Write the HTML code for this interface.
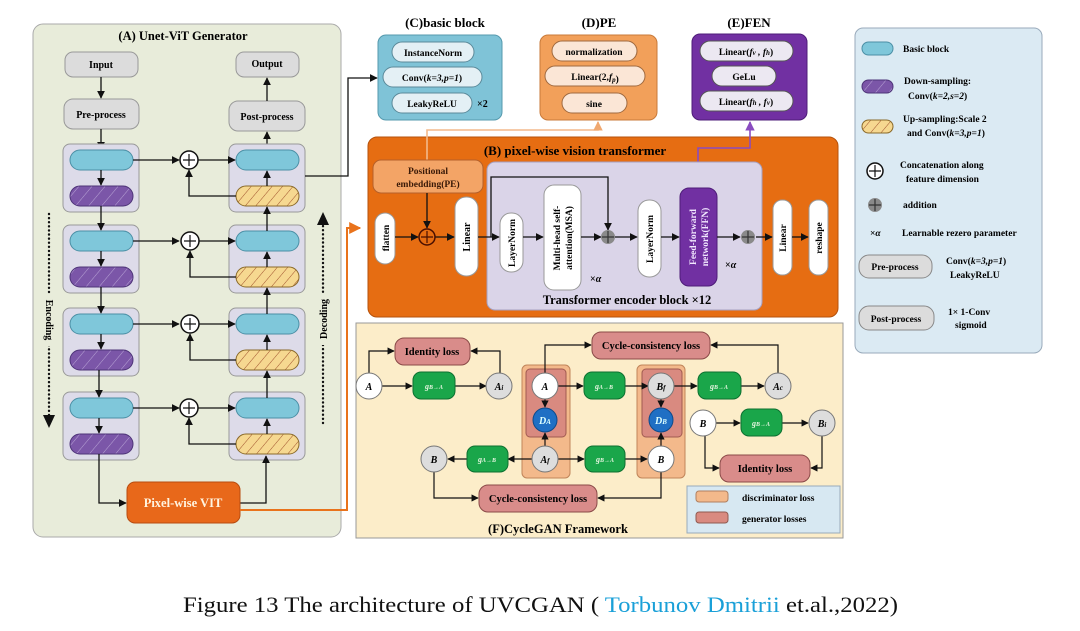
<!DOCTYPE html>
<html><head><meta charset="utf-8"><style>
html,body{margin:0;padding:0;background:#fff;}
svg{display:block;font-family:"Liberation Serif",serif;}
.b{font-weight:bold;}
</style></head><body>
<svg width="1080" height="631" viewBox="0 0 1080 631" xmlns="http://www.w3.org/2000/svg">
<defs>
<marker id="ar" viewBox="0 0 10 10" refX="9" refY="5" markerWidth="6" markerHeight="6" orient="auto"><path d="M0,0L10,5L0,10z" fill="#111"/></marker>
<marker id="ao" viewBox="0 0 10 10" refX="9" refY="5" markerWidth="6" markerHeight="6" orient="auto"><path d="M0,0L10,5L0,10z" fill="#e9731c"/></marker>
<marker id="al" viewBox="0 0 10 10" refX="9" refY="5" markerWidth="6" markerHeight="6" orient="auto"><path d="M0,0L10,5L0,10z" fill="#f0a870"/></marker>
<marker id="ap" viewBox="0 0 10 10" refX="9" refY="5" markerWidth="6" markerHeight="6" orient="auto"><path d="M0,0L10,5L0,10z" fill="#8a4cc0"/></marker>
<pattern id="hp" width="10" height="10" patternUnits="userSpaceOnUse" patternTransform="rotate(40)"><rect width="10" height="10" fill="#7b56a8"/><line x1="0" y1="0" x2="0" y2="10" stroke="#b9a5d6" stroke-width="1"/></pattern>
<pattern id="hy" width="8" height="8" patternUnits="userSpaceOnUse" patternTransform="rotate(40)"><rect width="8" height="8" fill="#f6d890"/><line x1="0" y1="0" x2="0" y2="8" stroke="#a0522d" stroke-width="1"/></pattern>
</defs>

<!-- Panel A -->
<rect x="33" y="24" width="308" height="513" rx="10" fill="#e8ecda" stroke="#aaa"/>
<text x="183" y="40" class="b" font-size="12.5" text-anchor="middle">(A)  Unet-ViT Generator</text>
<rect x="65" y="52" width="73" height="25" rx="8" fill="#dcdcdc" stroke="#999"/>
<text x="101" y="68" class="b" font-size="10" text-anchor="middle">Input</text>
<rect x="236" y="52" width="63" height="25" rx="8" fill="#dcdcdc" stroke="#999"/>
<text x="267" y="67" class="b" font-size="10" text-anchor="middle">Output</text>
<rect x="64" y="99" width="75" height="30" rx="9" fill="#dcdcdc" stroke="#999"/>
<text x="101" y="118" class="b" font-size="10" text-anchor="middle">Pre-process</text>
<rect x="229" y="101" width="76" height="30" rx="9" fill="#dcdcdc" stroke="#999"/>
<text x="267" y="120" class="b" font-size="10" text-anchor="middle">Post-process</text>
<g stroke="#111" stroke-width="1.3" fill="none">
<line x1="101" y1="77" x2="101" y2="98" marker-end="url(#ar)"/>
<line x1="101" y1="129" x2="101" y2="149" marker-end="url(#ar)"/>
<line x1="267" y1="150" x2="267" y2="132" marker-end="url(#ar)"/>
<line x1="267" y1="101" x2="267" y2="78" marker-end="url(#ar)"/>
</g>

<g>
<rect x="63" y="144" width="76" height="68" rx="7" fill="#dddbe9" stroke="#999"/>
<rect x="70" y="150" width="63" height="20" rx="10" fill="#7fc7da" stroke="#4b8fa5"/>
<rect x="70" y="186" width="63" height="20" rx="10" fill="url(#hp)" stroke="#4e3478"/>
<rect x="229" y="144" width="76" height="68" rx="7" fill="#dddbe9" stroke="#999"/>
<rect x="236" y="150" width="63" height="20" rx="10" fill="#7fc7da" stroke="#4b8fa5"/>
<rect x="236" y="186" width="63" height="20" rx="10" fill="url(#hy)" stroke="#8a6a2a"/>
</g>
<g>
<rect x="63" y="225" width="76" height="68" rx="7" fill="#dddbe9" stroke="#999"/>
<rect x="70" y="231" width="63" height="20" rx="10" fill="#7fc7da" stroke="#4b8fa5"/>
<rect x="70" y="267" width="63" height="20" rx="10" fill="url(#hp)" stroke="#4e3478"/>
<rect x="229" y="225" width="76" height="68" rx="7" fill="#dddbe9" stroke="#999"/>
<rect x="236" y="231" width="63" height="20" rx="10" fill="#7fc7da" stroke="#4b8fa5"/>
<rect x="236" y="267" width="63" height="20" rx="10" fill="url(#hy)" stroke="#8a6a2a"/>
</g>
<g>
<rect x="63" y="308" width="76" height="68" rx="7" fill="#dddbe9" stroke="#999"/>
<rect x="70" y="314" width="63" height="20" rx="10" fill="#7fc7da" stroke="#4b8fa5"/>
<rect x="70" y="350" width="63" height="20" rx="10" fill="url(#hp)" stroke="#4e3478"/>
<rect x="229" y="308" width="76" height="68" rx="7" fill="#dddbe9" stroke="#999"/>
<rect x="236" y="314" width="63" height="20" rx="10" fill="#7fc7da" stroke="#4b8fa5"/>
<rect x="236" y="350" width="63" height="20" rx="10" fill="url(#hy)" stroke="#8a6a2a"/>
</g>
<g>
<rect x="63" y="392" width="76" height="68" rx="7" fill="#dddbe9" stroke="#999"/>
<rect x="70" y="398" width="63" height="20" rx="10" fill="#7fc7da" stroke="#4b8fa5"/>
<rect x="70" y="434" width="63" height="20" rx="10" fill="url(#hp)" stroke="#4e3478"/>
<rect x="229" y="392" width="76" height="68" rx="7" fill="#dddbe9" stroke="#999"/>
<rect x="236" y="398" width="63" height="20" rx="10" fill="#7fc7da" stroke="#4b8fa5"/>
<rect x="236" y="434" width="63" height="20" rx="10" fill="url(#hy)" stroke="#8a6a2a"/>
</g>

<g stroke="#111" stroke-width="1.3" fill="none">
<line x1="101" y1="170" x2="101" y2="185" marker-end="url(#ar)"/>
<line x1="101" y1="206" x2="101" y2="230" marker-end="url(#ar)"/>
<line x1="101" y1="251" x2="101" y2="266" marker-end="url(#ar)"/>
<line x1="101" y1="287" x2="101" y2="313" marker-end="url(#ar)"/>
<line x1="101" y1="334" x2="101" y2="349" marker-end="url(#ar)"/>
<line x1="99" y1="370" x2="99" y2="397" marker-end="url(#ar)"/>
<line x1="99" y1="418" x2="99" y2="433" marker-end="url(#ar)"/>
<polyline points="99,454 99,503 126,503" marker-end="url(#ar)"/>
<line x1="267" y1="186" x2="267" y2="171" marker-end="url(#ar)"/>
<line x1="267" y1="231" x2="267" y2="207" marker-end="url(#ar)"/>
<line x1="267" y1="267" x2="267" y2="252" marker-end="url(#ar)"/>
<line x1="267" y1="314" x2="267" y2="288" marker-end="url(#ar)"/>
<line x1="267" y1="350" x2="267" y2="335" marker-end="url(#ar)"/>
<line x1="267" y1="398" x2="267" y2="371" marker-end="url(#ar)"/>
<line x1="267" y1="434" x2="267" y2="419" marker-end="url(#ar)"/>
<polyline points="240,503 266,503 266,456" marker-end="url(#ar)"/>
<line x1="133" y1="160" x2="179" y2="160" marker-end="url(#ar)"/>
<line x1="198" y1="160" x2="235" y2="160" marker-end="url(#ar)"/>
<polyline points="236,196 189,196 189,170" marker-end="url(#ar)"/>
<line x1="133" y1="241" x2="179" y2="241" marker-end="url(#ar)"/>
<line x1="198" y1="241" x2="235" y2="241" marker-end="url(#ar)"/>
<polyline points="236,277 190,277 190,251" marker-end="url(#ar)"/>
<line x1="133" y1="324" x2="179" y2="324" marker-end="url(#ar)"/>
<line x1="198" y1="324" x2="235" y2="324" marker-end="url(#ar)"/>
<polyline points="236,360 190,360 190,334" marker-end="url(#ar)"/>
<line x1="133" y1="408" x2="179" y2="408" marker-end="url(#ar)"/>
<line x1="198" y1="408" x2="235" y2="408" marker-end="url(#ar)"/>
<polyline points="236,444 189,444 189,418" marker-end="url(#ar)"/>
<polyline points="305,176 348,176 348,78 377,78" marker-end="url(#ar)"/>
</g>
<g fill="#fff" stroke="#111" stroke-width="1.5">
<circle cx="189" cy="160" r="9"/><circle cx="190" cy="241" r="9"/><circle cx="190" cy="324" r="9"/><circle cx="189" cy="408" r="9"/>
</g>
<g stroke="#111" stroke-width="1.2">
<path d="M183,160h12M189,154v12"/><path d="M184,241h12M190,235v12"/><path d="M184,324h12M190,318v12"/><path d="M183,408h12M189,402v12"/>
</g>
<!-- encoding/decoding -->
<line x1="49" y1="214" x2="49" y2="418" stroke="#111" stroke-width="2.4" stroke-dasharray="0.1,4" stroke-linecap="round"/>
<path d="M43,415L55,415L49,428z" fill="#111"/>
<rect x="43" y="294" width="12" height="52" fill="#e8ecda"/>
<text transform="translate(46,320) rotate(90)" class="b" font-size="10" text-anchor="middle">Encoding</text>
<line x1="323" y1="222" x2="323" y2="425" stroke="#111" stroke-width="2.4" stroke-dasharray="0.1,4" stroke-linecap="round"/>
<path d="M317,225L329,225L323,212z" fill="#111"/>
<rect x="317" y="293" width="12" height="52" fill="#e8ecda"/>
<text transform="translate(327,319) rotate(-90)" class="b" font-size="10" text-anchor="middle">Decoding</text>
<!-- VIT -->
<rect x="127" y="482" width="113" height="41" rx="8" fill="#e8681a" stroke="#b84c10"/>
<text x="183" y="507" class="b" font-size="12.5" fill="#fff4e0" text-anchor="middle">Pixel-wise VIT</text>
<polyline points="240,510 347,510 347,228 360,228" fill="none" stroke="#e9731c" stroke-width="2" marker-end="url(#ao)"/>

<!-- Panel C -->
<text x="445" y="27" class="b" font-size="13" text-anchor="middle">(C)basic block</text>
<rect x="378" y="35" width="124" height="85" rx="8" fill="#7fc3d7" stroke="#5599ad"/>
<rect x="392" y="42" width="82" height="20" rx="10" fill="#e4f0f5" stroke="#5b8a9a"/>
<text x="433" y="56" class="b" font-size="9.5" text-anchor="middle">InstanceNorm</text>
<rect x="383" y="67" width="99" height="20" rx="10" fill="#e4f0f5" stroke="#5b8a9a"/>
<text x="432" y="81" class="b" font-size="9.5" text-anchor="middle">Conv(<tspan font-style="italic">k=3,p=1</tspan>)</text>
<rect x="392" y="93" width="80" height="20" rx="10" fill="#e4f0f5" stroke="#5b8a9a"/>
<text x="432" y="107" class="b" font-size="9.5" text-anchor="middle">LeakyReLU</text>
<text x="477" y="107" class="b" font-size="10">×2</text>
<!-- Panel D -->
<text x="599" y="27" class="b" font-size="13" text-anchor="middle">(D)PE</text>
<rect x="540" y="35" width="117" height="85" rx="8" fill="#f2a05a" stroke="#c87a3a"/>
<rect x="552" y="41" width="85" height="20" rx="10" fill="#fbe6d6" stroke="#a06a40"/>
<text x="594" y="55" class="b" font-size="9.5" text-anchor="middle">normalization</text>
<rect x="545" y="66" width="100" height="20" rx="10" fill="#fbe6d6" stroke="#a06a40"/>
<text x="595" y="80" class="b" font-size="9.5" text-anchor="middle">Linear(2,<tspan font-style="italic">f<tspan font-size="7" dy="2">p</tspan></tspan>)</text>
<rect x="562" y="93" width="65" height="20" rx="10" fill="#fbe6d6" stroke="#a06a40"/>
<text x="594" y="107" class="b" font-size="9.5" text-anchor="middle">sine</text>
<!-- Panel E -->
<text x="749" y="27" class="b" font-size="13" text-anchor="middle">(E)FEN</text>
<rect x="692" y="34" width="115" height="86" rx="8" fill="#7130a2" stroke="#4e1d78"/>
<rect x="700" y="41" width="93" height="20" rx="10" fill="#ece8f2" stroke="#555"/>
<text x="746" y="55" class="b" font-size="9.5" text-anchor="middle">Linear(<tspan font-style="italic">f<tspan font-size="7">v</tspan> , f<tspan font-size="7">h</tspan></tspan>)</text>
<rect x="712" y="66" width="64" height="20" rx="10" fill="#ece8f2" stroke="#555"/>
<text x="744" y="80" class="b" font-size="9.5" text-anchor="middle">GeLu</text>
<rect x="700" y="91" width="93" height="20" rx="10" fill="#ece8f2" stroke="#555"/>
<text x="746" y="105" class="b" font-size="9.5" text-anchor="middle">Linear(<tspan font-style="italic">f<tspan font-size="7">h</tspan> , f<tspan font-size="7">v</tspan></tspan>)</text>

<!-- Panel B -->
<rect x="368" y="137" width="470" height="180" rx="9" fill="#e66d12" stroke="#b5520c"/>
<text x="575" y="155" class="b" font-size="13" text-anchor="middle">(B) pixel-wise vision transformer</text>
<polyline points="427,160 427,130 598,130 598,122" fill="none" stroke="#f3b98b" stroke-width="1.6" marker-end="url(#al)"/>
<polyline points="698,188 698,148 750,148 750,122" fill="none" stroke="#8a4cc0" stroke-width="1.6" marker-end="url(#ap)"/>
<rect x="373" y="160" width="110" height="33" rx="8" fill="#f3a466" stroke="#b5602a"/>
<text x="428" y="174" class="b" font-size="9.5" fill="#3a1a08" text-anchor="middle">Positional</text>
<text x="428" y="187" class="b" font-size="9.5" fill="#3a1a08" text-anchor="middle">embedding(PE)</text>
<rect x="487" y="162" width="275" height="148" rx="8" fill="#dad4e8" stroke="#a59fc0"/>
<text x="627" y="304" class="b" font-size="12.5" text-anchor="middle">Transformer encoder block ×12</text>
<rect x="375" y="213" width="20" height="51" rx="10" fill="#fff" stroke="#999"/>
<text transform="translate(389,238) rotate(-90)" class="b" font-size="9.5" text-anchor="middle">flatten</text>
<rect x="455" y="197" width="23" height="79" rx="11" fill="#fff" stroke="#999"/>
<text transform="translate(470,237) rotate(-90)" class="b" font-size="10" text-anchor="middle">Linear</text>
<rect x="500" y="213" width="23" height="59" rx="11" fill="#fff" stroke="#999"/>
<text transform="translate(515,243) rotate(-90)" class="b" font-size="9.5" text-anchor="middle">LayerNorm</text>
<rect x="544" y="185" width="37" height="105" rx="10" fill="#fff" stroke="#999"/>
<text transform="translate(560,238) rotate(-90)" class="b" font-size="9.5" text-anchor="middle">Multi-head self-</text>
<text transform="translate(572,238) rotate(-90)" class="b" font-size="9.5" text-anchor="middle">attention(MSA)</text>
<text x="590" y="282" class="b" font-size="10">×<tspan font-style="italic">α</tspan></text>
<rect x="638" y="200" width="23" height="77" rx="11" fill="#fff" stroke="#999"/>
<text transform="translate(653,239) rotate(-90)" class="b" font-size="9.5" text-anchor="middle">LayerNorm</text>
<rect x="680" y="188" width="37" height="98" rx="9" fill="#7130a2" stroke="#4e1d78"/>
<text transform="translate(696,237) rotate(-90)" class="b" font-size="9.5" fill="#f2e8ff" text-anchor="middle">Feed-forward</text>
<text transform="translate(708,237) rotate(-90)" class="b" font-size="9.5" fill="#f2e8ff" text-anchor="middle">network(FFN)</text>
<text x="725" y="268" class="b" font-size="10">×<tspan font-style="italic">α</tspan></text>
<rect x="773" y="200" width="19" height="75" rx="9" fill="#fff" stroke="#999"/>
<text transform="translate(786,238) rotate(-90)" class="b" font-size="9.5" text-anchor="middle">Linear</text>
<rect x="809" y="200" width="19" height="75" rx="9" fill="#fff" stroke="#999"/>
<text transform="translate(822,238) rotate(-90)" class="b" font-size="9.5" text-anchor="middle">reshape</text>
<g stroke="#111" stroke-width="1.3" fill="none">
<line x1="427" y1="193" x2="427" y2="228" marker-end="url(#ar)"/>
<line x1="395" y1="237" x2="418" y2="237" marker-end="url(#ar)"/>
<line x1="435" y1="237" x2="454" y2="237" marker-end="url(#ar)"/>
<line x1="478" y1="237" x2="499" y2="237" marker-end="url(#ar)"/>
<polyline points="491,237 491,177 608,177 608,230" marker-end="url(#ar)"/>
<line x1="523" y1="237" x2="543" y2="237" marker-end="url(#ar)"/>
<line x1="581" y1="237" x2="601" y2="237" marker-end="url(#ar)"/>
<line x1="614" y1="237" x2="637" y2="237" marker-end="url(#ar)"/>
<line x1="661" y1="237" x2="679" y2="237" marker-end="url(#ar)"/>
<line x1="717" y1="237" x2="740" y2="237" marker-end="url(#ar)"/>
<line x1="756" y1="237" x2="772" y2="237" marker-end="url(#ar)"/>
<line x1="792" y1="237" x2="808" y2="237" marker-end="url(#ar)"/>
</g>
<circle cx="427" cy="237" r="8" fill="#e66d12" stroke="#4a0f00" stroke-width="1.5"/>
<path d="M421,237h12M427,231v12" stroke="#4a0f00" stroke-width="1.2"/>
<circle cx="608" cy="237" r="7" fill="#8a8a8a"/>
<path d="M602,237h12M608,231v12" stroke="#333" stroke-width="1.2"/>
<circle cx="748" cy="237" r="7" fill="#8a8a8a"/>
<path d="M742,237h12M748,231v12" stroke="#333" stroke-width="1.2"/>

<!-- Panel F -->
<rect x="356" y="323" width="487" height="215" fill="#fcedc9" stroke="#999"/>
<text x="558" y="533" class="b" font-size="12.5" text-anchor="middle">(F)CycleGAN Framework</text>
<rect x="522" y="365" width="48" height="113" rx="5" fill="#f3b98b" stroke="#c0855a"/>
<rect x="526" y="369" width="40" height="68" rx="4" fill="#d98a80" stroke="#a05a50"/>
<rect x="637" y="365" width="48" height="113" rx="5" fill="#f3b98b" stroke="#c0855a"/>
<rect x="642" y="369" width="40" height="68" rx="4" fill="#d98a80" stroke="#a05a50"/>
<g stroke="#111" stroke-width="1.2" fill="none">
<polyline points="369,373 369,351 394,351" marker-end="url(#ar)"/>
<polyline points="500,373 500,351 471,351" marker-end="url(#ar)"/>
<line x1="382" y1="386" x2="412" y2="386" marker-end="url(#ar)"/>
<line x1="455" y1="386" x2="486" y2="386" marker-end="url(#ar)"/>
<polyline points="545,373 545,345 591,345" marker-end="url(#ar)"/>
<polyline points="778,373 778,345 711,345" marker-end="url(#ar)"/>
<line x1="558" y1="386" x2="583" y2="386" marker-end="url(#ar)"/>
<line x1="625" y1="386" x2="648" y2="386" marker-end="url(#ar)"/>
<line x1="674" y1="386" x2="697" y2="386" marker-end="url(#ar)"/>
<line x1="741" y1="386" x2="764" y2="386" marker-end="url(#ar)"/>
<line x1="545" y1="399" x2="545" y2="407" marker-end="url(#ar)"/>
<line x1="545" y1="446" x2="545" y2="433" marker-end="url(#ar)"/>
<line x1="661" y1="399" x2="661" y2="407" marker-end="url(#ar)"/>
<line x1="661" y1="446" x2="661" y2="433" marker-end="url(#ar)"/>
<line x1="532" y1="459" x2="508" y2="459" marker-end="url(#ar)"/>
<line x1="467" y1="459" x2="448" y2="459" marker-end="url(#ar)"/>
<line x1="558" y1="459" x2="584" y2="459" marker-end="url(#ar)"/>
<line x1="625" y1="459" x2="647" y2="459" marker-end="url(#ar)"/>
<polyline points="434,472 434,498 478,498" marker-end="url(#ar)"/>
<polyline points="661,472 661,498 598,498" marker-end="url(#ar)"/>
<line x1="716" y1="423" x2="740" y2="423" marker-end="url(#ar)"/>
<line x1="782" y1="423" x2="808" y2="423" marker-end="url(#ar)"/>
<polyline points="705,436 705,468 719,468" marker-end="url(#ar)"/>
<polyline points="822,436 822,468 811,468" marker-end="url(#ar)"/>
</g>
<g class="b" font-size="10.5" text-anchor="middle">
<rect x="395" y="338" width="75" height="27" rx="9" fill="#d98c8a" stroke="#8a4a48"/>
<text x="432" y="355">Identity loss</text>
<rect x="592" y="332" width="118" height="27" rx="9" fill="#d98c8a" stroke="#8a4a48"/>
<text x="651" y="349">Cycle-consistency loss</text>
<rect x="720" y="455" width="90" height="27" rx="9" fill="#d98c8a" stroke="#8a4a48"/>
<text x="765" y="472">Identity loss</text>
<rect x="479" y="485" width="118" height="27" rx="9" fill="#d98c8a" stroke="#8a4a48"/>
<text x="538" y="502">Cycle-consistency loss</text>
</g>
<g fill="#1aa64a" stroke="#0d7030">
<rect x="413" y="372" width="42" height="27" rx="8"/>
<rect x="584" y="372" width="41" height="27" rx="8"/>
<rect x="698" y="372" width="43" height="27" rx="8"/>
<rect x="741" y="409" width="41" height="27" rx="8"/>
<rect x="467" y="446" width="41" height="26" rx="8"/>
<rect x="585" y="446" width="40" height="26" rx="8"/>
</g>
<g fill="#e6f5e0" font-size="8" class="b" text-anchor="middle" font-style="italic">
<text x="434" y="389">g<tspan font-size="6">B→A</tspan></text>
<text x="604" y="389">g<tspan font-size="6">A→B</tspan></text>
<text x="719" y="389">g<tspan font-size="6">B→A</tspan></text>
<text x="761" y="426">g<tspan font-size="6">B→A</tspan></text>
<text x="487" y="462">g<tspan font-size="6">A→B</tspan></text>
<text x="605" y="462">g<tspan font-size="6">B→A</tspan></text>
</g>
<g stroke="#777" stroke-width="1">
<circle cx="369" cy="386" r="13" fill="#fff"/>
<circle cx="499" cy="386" r="13" fill="#ddd"/>
<circle cx="545" cy="386" r="13" fill="#fff"/>
<circle cx="661" cy="386" r="13" fill="#ddd"/>
<circle cx="778" cy="386" r="13" fill="#ddd"/>
<circle cx="545" cy="459" r="13" fill="#ddd"/>
<circle cx="661" cy="459" r="13" fill="#fff"/>
<circle cx="434" cy="459" r="13" fill="#ddd"/>
<circle cx="703" cy="423" r="13" fill="#fff"/>
<circle cx="822" cy="423" r="13" fill="#ddd"/>
<ellipse cx="545" cy="420" rx="12" ry="12" fill="#1f6fc4" stroke="#0e4a8a"/>
<ellipse cx="661" cy="420" rx="12" ry="12" fill="#1f6fc4" stroke="#0e4a8a"/>
</g>
<g class="b" font-style="italic" font-size="10" text-anchor="middle">
<text x="369" y="390">A</text>
<text x="499" y="390">A<tspan font-size="7">i</tspan></text>
<text x="545" y="390">A</text>
<text x="661" y="390">B<tspan font-size="7">f</tspan></text>
<text x="778" y="390">A<tspan font-size="7">c</tspan></text>
<text x="545" y="463">A<tspan font-size="7">f</tspan></text>
<text x="661" y="463">B</text>
<text x="434" y="463">B</text>
<text x="703" y="427">B</text>
<text x="822" y="427">B<tspan font-size="7">i</tspan></text>
<text x="545" y="424" fill="#dff">D<tspan font-size="7">A</tspan></text>
<text x="661" y="424" fill="#dff">D<tspan font-size="7">B</tspan></text>
</g>
<rect x="687" y="486" width="153" height="47" fill="#d7e8f2" stroke="#9ab"/>
<rect x="696" y="491" width="32" height="11" rx="3" fill="#f3b98b" stroke="#b08060"/>
<rect x="696" y="512" width="32" height="11" rx="3" fill="#d98a80" stroke="#905a50"/>
<text x="742" y="501" class="b" font-size="9.5">discriminator loss</text>
<text x="742" y="522" class="b" font-size="9.5">generator losses</text>

<!-- Legend panel -->
<rect x="855" y="28" width="187" height="325" rx="8" fill="#dbeaf3" stroke="#9ab"/>
<g class="b" font-size="9.5">
<rect x="862" y="42" width="31" height="13" rx="6.5" fill="#7fc7da" stroke="#4b8fa5"/>
<text x="903" y="52">Basic block</text>
<rect x="862" y="80" width="31" height="13" rx="6.5" fill="url(#hp)" stroke="#4e3478"/>
<text x="904" y="84">Down-sampling:</text>
<text x="908" y="99">Conv(<tspan font-style="italic">k=2,s=2</tspan>)</text>
<rect x="862" y="120" width="31" height="13" rx="6.5" fill="url(#hy)" stroke="#8a6a2a"/>
<text x="903" y="122">Up-sampling:Scale 2</text>
<text x="907" y="136">and Conv(<tspan font-style="italic">k=3,p=1</tspan>)</text>
<circle cx="875" cy="171" r="8" fill="#fff" stroke="#111" stroke-width="1.5"/>
<path d="M869,171h12M875,165v12" stroke="#111" stroke-width="1.2"/>
<text x="900" y="168">Concatenation along</text>
<text x="906" y="182">feature dimension</text>
<circle cx="875" cy="205" r="7" fill="#8a8a8a"/>
<path d="M869,205h12M875,199v12" stroke="#333" stroke-width="1.2"/>
<text x="903" y="208">addition</text>
<text x="870" y="236">×<tspan font-style="italic">α</tspan></text>
<text x="902" y="236">Learnable rezero parameter</text>
<rect x="859" y="255" width="73" height="23" rx="10" fill="#dcdcdc" stroke="#888"/>
<text x="895" y="270" text-anchor="middle">Pre-process</text>
<text x="946" y="264">Conv(<tspan font-style="italic">k=3,p=1</tspan>)</text>
<text x="950" y="278">LeakyReLU</text>
<rect x="859" y="306" width="75" height="24" rx="10" fill="#dcdcdc" stroke="#888"/>
<text x="896" y="322" text-anchor="middle">Post-process</text>
<text x="948" y="315">1× 1-Conv</text>
<text x="955" y="328">sigmoid</text>
</g>

<!-- Caption -->
<text x="183" y="612" font-size="22" textLength="715" lengthAdjust="spacingAndGlyphs" fill="#111">Figure 13 The architecture of UVCGAN ( <tspan fill="#1aa0d8">Torbunov Dmitrii</tspan> et.al.,2022)</text>
</svg>
</body></html>
